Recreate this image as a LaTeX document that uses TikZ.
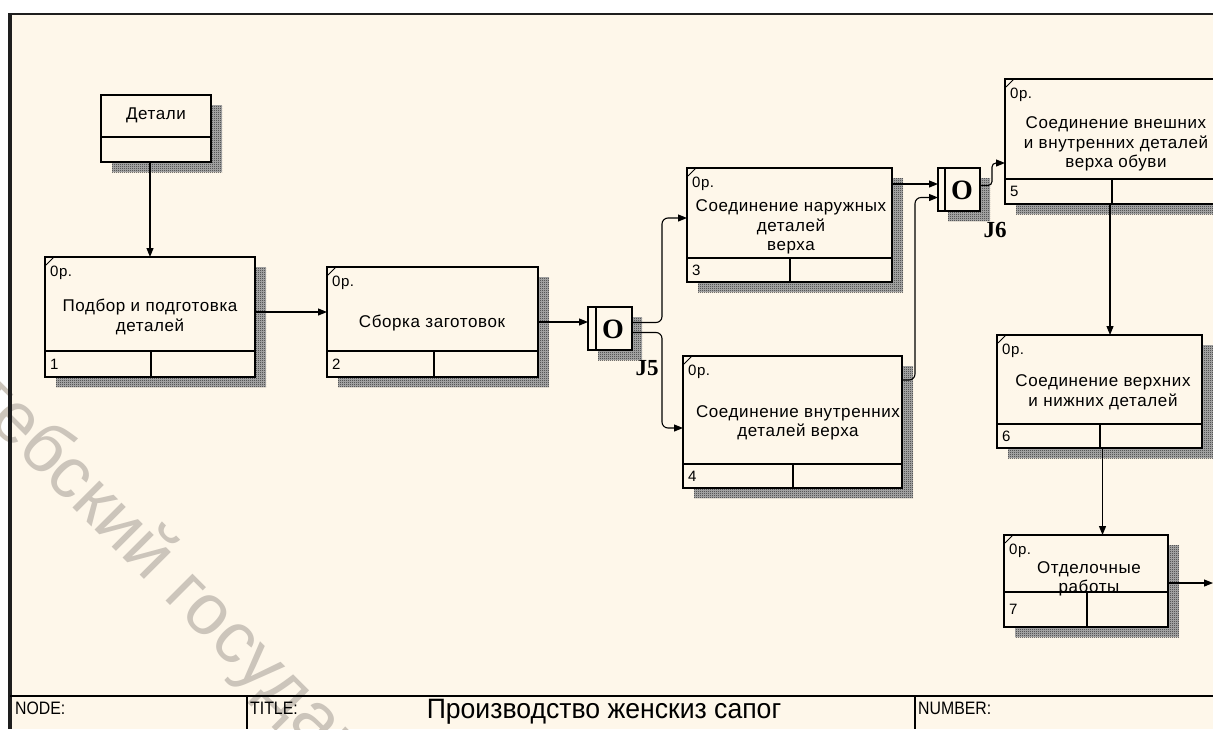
\documentclass[tikz,border=0pt]{standalone}
\usepackage{fontspec}
\setmainfont{Liberation Sans}[LetterSpace=3.5]
\newfontfamily\plainf{Liberation Sans}
\newfontfamily\serifb{Liberation Serif}
\newfontfamily\narrowf[FakeStretch=0.88]{Liberation Sans}
\newfontfamily\titlef[FakeStretch=0.95]{Liberation Sans}
\usetikzlibrary{arrows.meta,patterns}
\pgfdeclarepatternformonly{dither}{\pgfqpoint{0pt}{0pt}}{\pgfqpoint{2pt}{2pt}}{\pgfqpoint{2pt}{2pt}}{%
 \pgfpathrectangle{\pgfqpoint{0pt}{0pt}}{\pgfqpoint{1pt}{1pt}}%
 \pgfpathrectangle{\pgfqpoint{1pt}{1pt}}{\pgfqpoint{1pt}{1pt}}%
 \pgfusepath{fill}}
\definecolor{bg}{RGB}{254,247,234}
\definecolor{wm}{RGB}{204,197,187}
\definecolor{framec}{RGB}{30,30,30}
\tikzset{
  uob/.style={draw, line width=1.4pt, fill=bg, inner sep=0pt, outer sep=0pt},
  boxline/.style={line width=1.2pt},
  small/.style={anchor=west, inner sep=0pt, font=\fontsize{15}{15}\selectfont},
  main/.style={align=center, inner sep=0pt, font=\fontsize{17}{19.5}\selectfont},
  arr/.style={draw, line width=1.1pt, -{Triangle[length=9pt,width=7pt]}},
  jlabel/.style={inner sep=0pt, font=\serifb\bfseries\fontsize{23}{23}\selectfont},
  jo/.style={inner sep=0pt, font=\serifb\bfseries\fontsize{28}{28}\selectfont},
  shadowf/.style={preaction={fill=black!30}, pattern=dither, pattern color=black!85},
  bar/.style={anchor=west, inner sep=0pt, font=\narrowf\fontsize{18}{18}\selectfont}
}
\newcommand\uob[8]{%
 \fill[shadowf] (#2+11,#3+10) rectangle (#4+11,#5+10);
 \node[uob, anchor=north west, minimum width={#4pt-#2pt}, minimum height={#5pt-#3pt}] (#1) at (#2,#3) {};
 \draw[boxline] (#2,#6) -- (#4,#6);
 \draw[boxline] (#7,#6) -- (#7,#5);
 \draw[line width=0.8pt] (#2+1,#3+8) -- (#2+9,#3);
 \node[small] at (#2+5,#3+16) {0р.};
 \node[small] at (#2+5,{(#6+#5)/2}) {#8};
}
\begin{document}
\begin{tikzpicture}[x=1pt,y=-1pt]
\useasboundingbox (0,0) rectangle (1213,729);
\fill[white] (0,0) rectangle (1213,729);
\fill[bg] (10,14) rectangle (1213,729);
% watermark
\node[text=wm, rotate=-45, anchor=base west, inner sep=0pt, font=\plainf\fontsize{72}{72}\selectfont] (wmk) at (-98,337) {Витебский государственный технологический университет};
% frame
\draw[framec, line width=2pt] (8,14) -- (1213,14);
\draw[framec, line width=4pt] (10,13) -- (10,729);
\draw[line width=1.2pt] (10,696) -- (1213,696);
\draw[line width=1.2pt] (247,696) -- (247,729);
\draw[line width=1.2pt] (915,696) -- (915,729);
\node[bar] (nodel) at (15,708) {NODE:};
\node[bar] (titlel) at (250,708) {TITLE:};
\node[bar] (numl) at (918,708) {NUMBER:};
\node[inner sep=0pt, font=\titlef\fontsize{28}{28}\selectfont] (title) at (604,712) {Производство женскиз сапог};
% referent box
\fill[shadowf] (112,105) rectangle (222,172);
\node[uob, anchor=north west, minimum width=110pt, minimum height=67pt] (bD) at (101,95) {};
\draw[boxline] (101,137) -- (211,137);
\node[main] (tD) at (156,115) {Детали};
% boxes
\uob{b1}{45}{257}{255}{377}{351}{151}{1}
\node[main] (t1) at (150,317) {Подбор и подготовка\\деталей};
\uob{b2}{327}{267}{538}{377}{351}{434}{2}
\node[main] (t2) at (432,323) {Сборка заготовок};
\uob{b3}{687}{168}{892}{282}{258}{790}{3}
\node[main] (t3) at (791,227) {Соединение наружных\\деталей\\верха};
\uob{b4}{683}{356}{902}{488}{464}{793}{4}
\node[main] (t4) at (798,423) {Соединение внутренних\\деталей верха};
\uob{b5}{1005}{79}{1219}{204}{179}{1112}{5}
\node[main] (t5) at (1116,144) {Соединение внешних\\и внутренних деталей\\верха обуви};
\uob{b6}{997}{335}{1202}{448}{424}{1100}{6}
\node[main] (t6) at (1103,392) {Соединение верхних\\и нижних деталей};
\uob{b7}{1004}{535}{1168}{627}{592}{1087}{7}
\node[main] (t7) at (1089,579) {Отделочные\\работы};
% junctions
\fill[shadowf] (598,317) rectangle (642,360);
\node[uob, anchor=north west, minimum width=44pt, minimum height=43pt] (j5) at (588,307) {};
\draw[boxline] (596,307) -- (596,350);
\node[jo] (o5) at (613,329) {O};
\node[jlabel] (l5) at (647,368) {J5};
\fill[shadowf] (948,178) rectangle (990,221);
\node[uob, anchor=north west, minimum width=42pt, minimum height=43pt] (j6) at (938,168) {};
\draw[boxline] (945,168) -- (945,211);
\node[jo] (o6) at (962,190) {O};
\node[jlabel] (l6) at (995,230) {J6};
% connectors
\draw[arr] (bD.south -| b1.north) -- (b1.north);
\draw[arr] ([yshift=5pt]b1.east) -- ([yshift=5pt]b1.east -| b2.west);
\draw[arr] (b2.east) -- (b2.east -| j5.west);
\draw[arr, rounded corners=6pt] ([yshift=6pt]j5.east) -- ++(30,0) |- ([yshift=7pt]b3.west);
\draw[arr, rounded corners=6pt] ([yshift=-4pt]j5.east) -- ++(30,0) |- ([yshift=-6pt]b4.west);
\draw[arr] ([yshift=41pt]b3.east) -- ([yshift=41pt]b3.east -| j6.west);
\draw[arr, rounded corners=6pt] ([yshift=42pt]b4.east) -- ++(13,0) |- ([yshift=-8pt]j6.west);
\draw[arr, rounded corners=4pt] ([yshift=4pt]j6.east) -- ++(12,0) |- ([yshift=-21.5pt]b5.west);
\draw[arr] ([xshift=-2pt]b5.south) -- ([xshift=-2pt]b5.south |- b6.north);
\draw[arr] ([xshift=3pt]b6.south) -- ([xshift=3pt]b6.south |- b7.north);
\coordinate (out) at (1213,583);
\draw[arr] (b7.east |- out) -- (out);
\end{tikzpicture}
\end{document}
